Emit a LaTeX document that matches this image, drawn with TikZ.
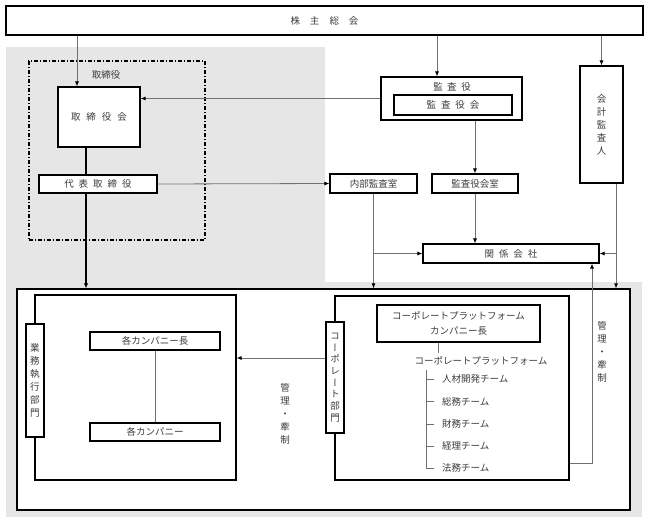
\documentclass[tikz,border=0pt]{standalone}
\usepackage{fontspec}
\usetikzlibrary{arrows.meta}
\newfontfamily\jp{Noto Sans CJK JP}
\newfontfamily\jpv[RawFeature=+vert]{Noto Sans CJK JP}
\definecolor{bgGray}{HTML}{E6E6E6}
\definecolor{txt}{HTML}{3C3C3C}
\definecolor{lnGray}{HTML}{707070}
\begin{document}
\begin{tikzpicture}[x=1pt,y=-1pt,
  every node/.style={font=\jp\fontsize{9.5}{12}\selectfont, text=txt},
  box/.style={draw=black, line width=1.1pt, fill=white, inner sep=0pt, anchor=center},
  conn/.style={draw=lnGray, line width=0.8pt},
  trunk/.style={draw=black, line width=1.3pt},
  arr/.style={conn, -{Latex[length=5pt,width=4pt,color=black]}},
  tarr/.style={trunk, -{Latex[length=5pt,width=4.5pt,color=black]}},
  vtext/.style={font=\jpv\fontsize{9.5}{13}\selectfont, align=center, inner sep=0pt},
]
\useasboundingbox (0,0) rectangle (648,523);
\fill[white] (0,0) rectangle (648,523);
\fill[bgGray] (6,47) rectangle (325,283);
\fill[bgGray] (6,282) rectangle (642,517);

% top
\node[box, line width=2pt, minimum width=637pt, minimum height=29pt] (top) at (324.5,20.5) {株\hspace{10pt}主\hspace{10pt}総\hspace{10pt}会};

% directors
\node[draw=black, line width=1.3pt, dash pattern=on 4pt off 1.8pt on 1.4pt off 1.8pt, inner sep=0pt, minimum width=176pt, minimum height=179pt] (dframe) at (117,150.5) {};
\node (dlabel) at (106,75) {取締役};
\node[box, minimum width=82pt, minimum height=60pt] (board) at (99,117) {取\hspace{6pt}締\hspace{6pt}役\hspace{6pt}会};
\node[box, minimum width=118pt, minimum height=18pt] (rep) at (98,184) {代\hspace{5pt}表\hspace{5pt}取\hspace{5pt}締\hspace{5pt}役};

% auditors
\node[box, minimum width=141pt, minimum height=43pt] (ksy) at (451.5,98.5) {};
\node (ksylabel) at (452,86.5) {監\hspace{4.5pt}査\hspace{4.5pt}役};
\node[box, minimum width=118pt, minimum height=20pt] (ksyk) at (453,105) {監\hspace{5pt}査\hspace{5pt}役\hspace{5pt}会};
\node[box, minimum width=86pt, minimum height=19pt] (ksr) at (475,183.5) {監査役会室};
\node[box, minimum width=87pt, minimum height=19pt] (naibu) at (373.5,183.5) {内部監査室};
\node[box, vtext, minimum width=43pt, minimum height=117pt] (kaikei) at (601.5,124.5) {会\\計\\監\\査\\人};
\node[box, minimum width=176pt, minimum height=19pt] (kankei) at (511,253.5) {関\hspace{5pt}係\hspace{5pt}会\hspace{5pt}社};

% main box
\node[box, line width=1.3pt, minimum width=613pt, minimum height=221pt] (main) at (323.5,399.5) {};
\node[box, minimum width=201pt, minimum height=185pt] (lg) at (135.5,387.5) {};
\node[box, vtext, minimum width=18pt, minimum height=113pt] (gyomu) at (35,380.5) {業\\務\\執\\行\\部\\門};
\node[box, minimum width=130pt, minimum height=18pt] (chead) at (155,341) {各カンパニー長};
\node[box, minimum width=130pt, minimum height=18pt] (comp) at (155,432) {各カンパニー};
\node[box, minimum width=234pt, minimum height=184pt] (rg) at (452,388) {};
\node[box, vtext, font=\jpv\fontsize{9.5}{11.7}\selectfont, minimum width=18pt, minimum height=111pt] (corp) at (335,377.5) {コ\\ー\\ポ\\レ\\ー\\ト\\部\\門};
\node[box, line width=1.6pt, minimum width=163pt, minimum height=37pt, align=center, font=\jp\fontsize{9.5}{15}\selectfont] (cpfh) at (458.5,323.5) {コーポレートプラットフォーム\\カンパニー長};
\node (cpfl) at (481,361) {コーポレートプラットフォーム};
\node[anchor=west, inner xsep=8pt] (t1) at (434,379) {人材開発チーム};
\node[anchor=west, inner xsep=8pt] (t2) at (434,401.5) {総務チーム};
\node[anchor=west, inner xsep=8pt] (t3) at (434,424) {財務チーム};
\node[anchor=west, inner xsep=8pt] (t4) at (434,446) {経理チーム};
\node[anchor=west, inner xsep=8pt] (t5) at (434,468) {法務チーム};
\node[vtext] (kk1) at (285,413.5) {管\\理\\・\\牽\\制};
\node[vtext] (kk2) at (602,352) {管\\理\\・\\牽\\制};

% connectors
\draw[arr] ([xshift=-22pt]board.north |- top.south) -- ([xshift=-22pt]board.north);
\draw[arr] (ksy.west) -- (ksy.west -| board.east);
\draw[trunk] ([xshift=-13pt]board.south) -- ([xshift=-13pt]board.south |- rep.north);
\draw[tarr] ([xshift=-13pt]board.south |- rep.south) -- ([xshift=-13pt]board.south |- main.north);
\draw[arr] (rep.east) -- (naibu.west);
\draw[arr] ([xshift=-14.5pt]ksy.north |- top.south) -- ([xshift=-14.5pt]ksy.north);
\draw[arr] (kaikei.north |- top.south) -- (kaikei.north);
\draw[arr] (ksr.north |- ksy.south) -- (ksr.north);
\draw[arr] (ksr.south) -- (ksr.south |- kankei.north);
\draw[arr] (naibu.south) -- (naibu.south |- main.north);
\draw[arr] (naibu.south |- kankei.west) -- (kankei.west);
\draw[arr] ([xshift=14.5pt]kaikei.south) -- ([xshift=14.5pt]kaikei.south |- main.north);
\draw[arr] ([xshift=14.5pt]kaikei.south |- kankei.east) -- (kankei.east);
\draw[arr] ([yshift=17pt]rg.south east) -| ([xshift=81pt]kankei.south);
\draw[arr, line width=1pt] ([yshift=19.5pt]corp.west) -- ([yshift=19.5pt]corp.west -| lg.east);
\draw[conn] (chead.south) -- (comp.north);
\draw[conn] ([xshift=-20.5pt]cpfh.south) -- ([xshift=-20.5pt]cpfh.south |- cpfl.north);
\coordinate (trtop) at (426,370);
\draw[conn] (trtop) |- (t5.west);
\draw[conn] (trtop |- t1.west) -- (t1.west);
\draw[conn] (trtop |- t2.west) -- (t2.west);
\draw[conn] (trtop |- t3.west) -- (t3.west);
\draw[conn] (trtop |- t4.west) -- (t4.west);
\end{tikzpicture}
\end{document}
